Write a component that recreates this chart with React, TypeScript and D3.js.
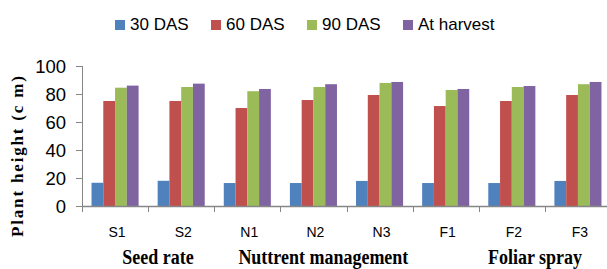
import * as d3 from "d3";

const categories = ["S1", "S2", "N1", "N2", "N3", "F1", "F2", "F3"];
const seriesNames = ["30 DAS", "60 DAS", "90 DAS", "At harvest"];
const das30 = [16.6, 18, 16.4, 16.4, 17.9, 16.4, 16.4, 17.9];
const das60 = [75, 75, 70, 75.7, 79.3, 71.4, 75, 79.3];
const das90 = [84.5, 85, 82, 85, 87.9, 82.9, 85, 87];
const atHarvest = [86, 87.4, 83.6, 87, 88.6, 83.6, 85.7, 88.6];
const yTicks = [0, 20, 40, 60, 80, 100];
const groupLabels = ["Seed rate", "Nuttrent management", "Foliar spray"];

const colors = ["#4F81BD", "#C0504D", "#9BBB59", "#8064A2"];

const W = 607;
const H = 269;
const left = 82;
const right = 611; // plot runs past the picture edge, as in the original
const top = 66;
const bottom = 206;

// where the group captions sit, in category units from the left axis
const groupPos = [1.15, 3.65, 6.85];
// legend item left edges (square)
const legendX = [115, 211, 307, 403];

export default function App() {
  const values = [das30, das60, das90, atHarvest];

  const x0 = d3.scaleBand<string>().domain(categories).range([left, right]).padding(0);
  const x1 = d3
    .scaleBand<string>()
    .domain(seriesNames)
    .range([0, x0.bandwidth()])
    .paddingInner(0)
    .paddingOuter(0.81);
  const y = d3.scaleLinear().domain([0, 100]).range([bottom, top]);

  const axisColor = "#868686";
  const sans = "'Liberation Sans', Arial, sans-serif";
  const serif = "'Liberation Serif', 'Times New Roman', serif";

  const boundaries = categories.map((c) => x0(c)!).concat([right]);

  return (
    <div style={{ position: "fixed", top: 0, left: 0 }}>
      <svg width={W} height={H} style={{ display: "block", background: "#fff" }}>
        {/* legend */}
        {seriesNames.map((s, i) => (
          <g key={s} transform={`translate(${legendX[i]},0)`}>
            <rect x={0} y={20} width={10} height={10} fill={colors[i]} />
            <text x={15} y={30} fontFamily={sans} fontSize={17} fill="#000">
              {s}
            </text>
          </g>
        ))}

        {/* bars */}
        {categories.map((c, ci) => (
          <g key={c} transform={`translate(${x0(c)},0)`}>
            {seriesNames.map((s, si) => (
              <rect
                key={s}
                x={x1(s)}
                y={y(values[si][ci])}
                width={x1.bandwidth()}
                height={y(0) - y(values[si][ci])}
                fill={colors[si]}
              />
            ))}
          </g>
        ))}

        {/* y axis */}
        <line x1={left + 0.5} x2={left + 0.5} y1={top} y2={bottom} stroke={axisColor} strokeWidth={1} />
        {yTicks.map((t) => (
          <g key={t}>
            <line x1={left - 6} x2={left} y1={Math.round(y(t)) + 0.5} y2={Math.round(y(t)) + 0.5} stroke={axisColor} />
            <text
              x={left - 16}
              y={y(t)}
              dy="0.36em"
              textAnchor="end"
              fontFamily={sans}
              fontSize={18.5}
              fill="#000"
            >
              {t}
            </text>
          </g>
        ))}

        {/* x axis */}
        <line x1={left} x2={right} y1={bottom + 0.5} y2={bottom + 0.5} stroke={axisColor} strokeWidth={1.5} />
        {boundaries.map((b, i) => (
          <line
            key={i}
            x1={Math.round(b) + 0.5}
            x2={Math.round(b) + 0.5}
            y1={bottom}
            y2={bottom + 6}
            stroke={axisColor}
          />
        ))}
        {categories.map((c) => (
          <text
            key={c}
            x={x0(c)! + x0.bandwidth() / 2 + 2}
            y={237}
            textAnchor="middle"
            fontFamily={sans}
            fontSize={14}
            fill="#000"
          >
            {c}
          </text>
        ))}

        {/* group captions */}
        {groupLabels.map((g, i) => (
          <text
            key={g}
            transform={`translate(${left + groupPos[i] * x0.bandwidth()},264) scale(1,1.15)`}
            textAnchor="middle"
            fontFamily={serif}
            fontWeight="bold"
            fontSize={18}
            fill="#000"
          >
            {g}
          </text>
        ))}

        {/* y title */}
        <text
          transform={`translate(23,${156.5}) rotate(-90)`}
          textAnchor="middle"
          fontFamily={serif}
          fontWeight="bold"
          fontSize={17}
          textLength={161}
          lengthAdjust="spacing"
          fill="#000"
        >
          Plant height (c m)
        </text>
      </svg>
    </div>
  );
}
